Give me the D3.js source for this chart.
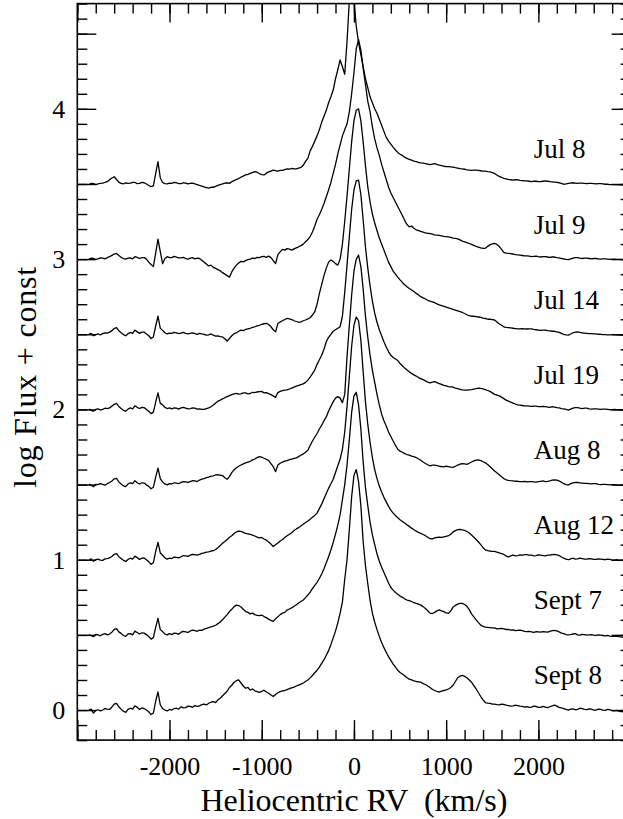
<!DOCTYPE html>
<html>
<head>
<meta charset="utf-8">
<script src="https://cdn.jsdelivr.net/npm/d3@7"></script>
<style>
  body { margin: 0; background: #fff; }
  svg text { font-family: "Liberation Serif", "DejaVu Serif", "Times New Roman", serif; fill: #000; }
</style>
</head>
<body>
<script>

// heliocentric radial velocity grid (km/s), shared by every spectrum; 8 points per row
var rv = [
  -2875,-2850,-2825,-2800,-2775,-2750,-2725,-2700,
  -2675,-2650,-2625,-2600,-2575,-2550,-2525,-2500,
  -2475,-2450,-2425,-2400,-2375,-2350,-2325,-2300,
  -2275,-2250,-2225,-2200,-2175,-2150,-2125,-2100,
  -2075,-2050,-2025,-2000,-1975,-1950,-1925,-1900,
  -1875,-1850,-1825,-1800,-1775,-1750,-1725,-1700,
  -1675,-1650,-1625,-1600,-1575,-1550,-1525,-1500,
  -1475,-1450,-1425,-1400,-1375,-1350,-1325,-1300,
  -1275,-1250,-1225,-1200,-1175,-1150,-1125,-1100,
  -1075,-1050,-1025,-1000,-975,-950,-925,-900,
  -875,-850,-825,-800,-775,-750,-725,-700,
  -675,-650,-625,-600,-575,-550,-525,-500,
  -475,-450,-425,-400,-375,-350,-325,-300,
  -275,-250,-225,-200,-175,-150,-125,-100,
  -75,-50,-25,0,25,50,75,100,
  125,150,175,200,225,250,275,300,
  325,350,375,400,425,450,475,500,
  525,550,575,600,625,650,675,700,
  725,750,775,800,825,850,875,900,
  925,950,975,1000,1025,1050,1075,1100,
  1125,1150,1175,1200,1225,1250,1275,1300,
  1325,1350,1375,1400,1425,1450,1475,1500,
  1525,1550,1575,1600,1625,1650,1675,1700,
  1725,1750,1775,1800,1825,1850,1875,1900,
  1925,1950,1975,2000,2025,2050,2075,2100,
  2125,2150,2175,2200,2225,2250,2275,2300,
  2325,2350,2375,2400,2425,2450,2475,2500,
  2525,2550,2575,2600,2625,2650,2675,2700,
  2725,2750,2775,2800,2825,2850,2875,2900,
  2925
];

// log flux above each spectrum's own continuum
var fluxJul8 = [
  -0.005,0.004,0.002,-0.004,0.000,0.004,0.006,0.010,
  0.015,0.028,0.040,0.048,0.030,0.012,0.004,0.000,
  0.008,0.004,0.006,0.010,0.010,0.002,0.004,0.010,
  0.008,0.000,-0.010,-0.018,-0.012,0.070,0.148,0.040,
  0.010,0.002,0.000,0.006,0.004,0.010,0.008,0.002,
  0.002,0.008,0.006,0.000,0.004,0.006,0.000,-0.004,
  -0.010,-0.014,-0.020,-0.024,-0.028,-0.022,-0.022,-0.016,
  -0.010,-0.004,0.000,0.006,0.008,0.004,0.015,0.022,
  0.030,0.036,0.045,0.052,0.060,0.064,0.070,0.076,
  0.082,0.078,0.068,0.062,0.060,0.072,0.080,0.086,
  0.092,0.088,0.085,0.090,0.090,0.096,0.100,0.098,
  0.104,0.100,0.100,0.106,0.110,0.124,0.150,0.170,
  0.220,0.250,0.285,0.320,0.360,0.410,0.450,0.490,
  0.540,0.580,0.625,0.700,0.760,0.825,0.780,0.730,
  0.950,1.220,1.450,1.220,1.050,0.940,0.860,0.780,
  0.700,0.640,0.580,0.540,0.500,0.470,0.430,0.390,
  0.350,0.310,0.285,0.265,0.245,0.226,0.210,0.198,
  0.190,0.178,0.170,0.164,0.158,0.152,0.148,0.144,
  0.140,0.138,0.135,0.132,0.128,0.132,0.136,0.130,
  0.125,0.122,0.118,0.116,0.115,0.114,0.112,0.108,
  0.105,0.102,0.100,0.098,0.094,0.092,0.090,0.092,
  0.092,0.090,0.088,0.086,0.085,0.082,0.080,0.076,
  0.070,0.060,0.050,0.044,0.038,0.034,0.030,0.028,
  0.026,0.028,0.028,0.024,0.022,0.020,0.020,0.018,
  0.016,0.018,0.018,0.016,0.015,0.018,0.020,0.018,
  0.015,0.014,0.012,0.010,0.008,0.004,-0.002,0.000,
  0.004,0.006,0.008,0.006,0.004,0.006,0.006,0.004,
  0.002,0.004,0.004,0.002,0.000,0.002,0.002,0.000,
  -0.002,-0.002,-0.004,-0.004,-0.004,-0.004,-0.006,-0.006,
  -0.008
];
var fluxJul9 = [
  0.000,0.006,0.004,-0.002,0.002,0.008,0.006,0.002,
  0.010,0.016,0.025,0.034,0.038,0.024,0.012,0.004,
  0.000,0.006,0.008,0.002,0.016,0.012,0.004,0.010,
  0.010,0.000,-0.020,-0.036,-0.050,0.040,0.133,0.050,
  -0.030,0.004,0.016,0.010,0.010,0.018,0.014,0.008,
  0.008,0.012,0.004,0.000,0.006,0.010,0.002,0.006,
  0.004,-0.008,-0.020,-0.032,-0.045,-0.040,-0.055,-0.062,
  -0.070,-0.078,-0.090,-0.100,-0.110,-0.120,-0.085,-0.060,
  -0.040,-0.026,-0.015,-0.018,-0.010,-0.004,0.000,0.006,
  0.004,0.012,0.010,0.016,0.018,0.012,0.020,0.010,
  -0.010,-0.030,0.030,0.048,0.065,0.060,0.070,0.066,
  0.060,0.068,0.075,0.082,0.090,0.100,0.115,0.130,
  0.150,0.180,0.220,0.265,0.295,0.330,0.370,0.415,
  0.460,0.510,0.570,0.630,0.700,0.760,0.820,0.860,
  0.900,0.980,1.100,1.240,1.400,1.460,1.390,1.270,
  1.160,1.050,0.980,0.880,0.800,0.740,0.690,0.630,
  0.580,0.530,0.480,0.440,0.410,0.380,0.350,0.320,
  0.290,0.258,0.230,0.215,0.220,0.205,0.195,0.190,
  0.185,0.180,0.175,0.172,0.170,0.166,0.162,0.160,
  0.158,0.155,0.152,0.150,0.148,0.144,0.140,0.138,
  0.135,0.128,0.120,0.115,0.110,0.104,0.098,0.092,
  0.085,0.080,0.075,0.072,0.072,0.085,0.095,0.102,
  0.105,0.098,0.085,0.065,0.045,0.040,0.038,0.036,
  0.034,0.030,0.028,0.026,0.024,0.022,0.022,0.020,
  0.016,0.018,0.020,0.016,0.014,0.016,0.016,0.014,
  0.012,0.014,0.014,0.010,0.008,0.004,0.002,-0.002,
  -0.004,0.002,0.006,0.010,0.010,0.006,0.004,0.006,
  0.006,0.004,0.002,0.004,0.004,0.002,0.000,0.002,
  0.002,0.000,-0.002,0.000,0.000,-0.002,-0.002,-0.002,
  -0.004
];
var fluxJul14 = [
  0.000,0.006,-0.010,-0.002,0.002,-0.004,0.004,0.010,
  0.008,0.014,0.024,0.038,0.045,0.024,0.010,-0.002,
  -0.010,0.004,0.012,0.006,0.028,0.016,0.006,0.014,
  0.014,0.002,-0.010,-0.028,-0.018,0.055,0.120,0.040,
  0.026,0.010,0.002,0.008,0.006,0.012,0.010,0.004,
  0.008,0.012,0.006,0.002,0.006,0.010,0.004,0.000,
  0.006,0.002,0.000,-0.006,-0.004,0.002,-0.006,-0.012,
  -0.010,-0.016,-0.018,-0.030,-0.045,-0.028,-0.010,0.004,
  0.010,0.020,0.028,0.024,0.032,0.036,0.040,0.046,
  0.050,0.056,0.060,0.066,0.070,0.072,0.065,0.050,
  0.030,0.016,0.072,0.082,0.090,0.098,0.106,0.102,
  0.098,0.090,0.085,0.080,0.083,0.090,0.095,0.102,
  0.110,0.128,0.150,0.200,0.270,0.330,0.390,0.440,
  0.480,0.494,0.485,0.470,0.460,0.500,0.600,0.750,
  0.920,1.100,1.280,1.420,1.490,1.500,1.420,1.280,
  1.120,0.980,0.880,0.800,0.740,0.690,0.640,0.600,
  0.560,0.520,0.480,0.450,0.420,0.400,0.380,0.362,
  0.345,0.330,0.316,0.305,0.295,0.284,0.272,0.262,
  0.250,0.242,0.235,0.226,0.220,0.216,0.210,0.202,
  0.195,0.190,0.185,0.180,0.175,0.170,0.165,0.160,
  0.155,0.150,0.145,0.138,0.130,0.124,0.120,0.120,
  0.118,0.115,0.112,0.108,0.105,0.100,0.100,0.098,
  0.095,0.082,0.070,0.060,0.050,0.046,0.044,0.042,
  0.040,0.038,0.036,0.036,0.038,0.036,0.035,0.036,
  0.036,0.032,0.030,0.028,0.026,0.028,0.028,0.024,
  0.022,0.020,0.020,0.016,0.012,0.006,0.000,-0.004,
  -0.006,0.002,0.010,0.014,0.016,0.012,0.010,0.008,
  0.006,0.004,0.004,0.002,0.002,0.000,0.000,-0.002,
  -0.002,-0.004,-0.004,-0.002,-0.002,-0.004,-0.006,-0.006,
  -0.008
];
var fluxJul19 = [
  0.002,-0.006,-0.012,0.000,0.004,-0.004,0.000,0.008,
  0.006,0.010,0.022,0.034,0.040,0.020,0.006,-0.006,
  -0.012,0.002,0.010,0.004,0.024,0.014,0.006,0.014,
  0.012,0.000,-0.012,-0.028,-0.018,0.048,0.110,0.040,
  0.030,0.014,0.006,0.010,0.004,0.010,0.008,0.002,
  0.010,0.014,0.008,0.004,0.006,0.010,0.008,0.002,
  0.004,0.000,0.000,0.006,0.010,0.018,0.030,0.042,
  0.055,0.062,0.070,0.078,0.085,0.092,0.098,0.104,
  0.107,0.102,0.104,0.110,0.110,0.104,0.106,0.114,
  0.112,0.116,0.118,0.120,0.110,0.112,0.105,0.098,
  0.090,0.080,0.112,0.120,0.125,0.128,0.130,0.136,
  0.142,0.148,0.155,0.160,0.165,0.170,0.180,0.195,
  0.215,0.238,0.262,0.300,0.330,0.360,0.400,0.450,
  0.480,0.500,0.520,0.530,0.540,0.550,0.620,0.780,
  0.960,1.150,1.330,1.460,1.520,1.526,1.430,1.260,
  1.080,0.940,0.820,0.720,0.640,0.580,0.530,0.490,
  0.450,0.415,0.385,0.360,0.345,0.335,0.325,0.305,
  0.290,0.275,0.262,0.250,0.240,0.230,0.222,0.212,
  0.205,0.198,0.190,0.182,0.176,0.182,0.185,0.178,
  0.172,0.166,0.160,0.156,0.152,0.150,0.148,0.142,
  0.138,0.134,0.130,0.128,0.128,0.130,0.132,0.135,
  0.138,0.142,0.140,0.136,0.132,0.126,0.120,0.110,
  0.100,0.096,0.090,0.082,0.072,0.062,0.055,0.048,
  0.042,0.036,0.030,0.028,0.026,0.024,0.024,0.022,
  0.020,0.022,0.022,0.018,0.018,0.020,0.018,0.016,
  0.014,0.018,0.016,0.012,0.010,0.006,0.004,0.000,
  -0.004,0.002,0.008,0.012,0.012,0.008,0.006,0.008,
  0.008,0.004,0.002,0.004,0.004,0.002,0.000,0.002,
  0.002,0.000,-0.002,-0.002,0.000,-0.002,-0.004,-0.004,
  -0.006
];
var fluxAug8 = [
  0.004,-0.004,-0.014,0.002,0.000,0.006,0.002,-0.004,
  0.006,0.014,0.024,0.038,0.042,0.018,0.004,-0.008,
  -0.014,0.004,0.012,0.006,0.026,0.012,0.004,0.012,
  0.010,-0.002,-0.012,-0.028,-0.018,0.050,0.110,0.040,
  0.018,0.004,-0.002,0.006,0.004,0.012,0.010,0.006,
  0.014,0.020,0.018,0.014,0.020,0.026,0.024,0.020,
  0.030,0.036,0.040,0.046,0.050,0.056,0.058,0.064,
  0.066,0.062,0.060,0.045,0.035,0.055,0.080,0.098,
  0.112,0.122,0.130,0.138,0.145,0.150,0.155,0.164,
  0.170,0.180,0.186,0.182,0.175,0.168,0.160,0.140,
  0.120,0.086,0.130,0.142,0.150,0.156,0.160,0.166,
  0.170,0.174,0.178,0.186,0.195,0.204,0.215,0.228,
  0.260,0.290,0.315,0.340,0.370,0.395,0.425,0.450,
  0.490,0.520,0.552,0.575,0.585,0.575,0.545,0.600,
  0.850,1.060,1.260,1.420,1.500,1.527,1.450,1.300,
  1.120,0.980,0.860,0.760,0.680,0.600,0.530,0.470,
  0.425,0.390,0.350,0.320,0.290,0.262,0.235,0.222,
  0.215,0.206,0.200,0.196,0.190,0.186,0.180,0.170,
  0.162,0.150,0.140,0.132,0.125,0.130,0.130,0.126,
  0.122,0.120,0.118,0.122,0.120,0.116,0.115,0.122,
  0.130,0.136,0.140,0.138,0.135,0.142,0.150,0.158,
  0.163,0.164,0.160,0.152,0.145,0.134,0.120,0.105,
  0.090,0.078,0.065,0.052,0.040,0.032,0.028,0.026,
  0.025,0.022,0.022,0.020,0.020,0.022,0.018,0.020,
  0.020,0.018,0.016,0.020,0.022,0.024,0.020,0.022,
  0.025,0.030,0.032,0.030,0.024,0.016,0.006,0.000,
  -0.003,0.006,0.012,0.014,0.014,0.012,0.010,0.008,
  0.008,0.006,0.004,0.006,0.006,0.002,0.000,0.002,
  0.002,0.000,-0.002,0.000,0.000,-0.002,-0.003,-0.004,
  -0.006
];
var fluxAug12 = [
  0.000,0.006,-0.010,0.000,0.004,-0.002,-0.004,0.006,
  0.008,0.012,0.022,0.036,0.040,0.020,0.008,-0.004,
  -0.012,0.002,0.010,0.004,0.024,0.014,0.002,0.010,
  0.012,0.000,-0.014,-0.030,-0.020,0.055,0.115,0.045,
  0.030,0.012,0.004,0.010,0.008,0.018,0.015,0.012,
  0.020,0.028,0.026,0.022,0.030,0.036,0.034,0.030,
  0.036,0.042,0.045,0.050,0.052,0.058,0.060,0.068,
  0.080,0.094,0.110,0.122,0.135,0.150,0.160,0.175,
  0.185,0.190,0.188,0.182,0.175,0.172,0.168,0.164,
  0.158,0.150,0.145,0.148,0.138,0.130,0.118,0.104,
  0.088,0.100,0.112,0.125,0.135,0.148,0.160,0.170,
  0.180,0.195,0.205,0.214,0.225,0.236,0.248,0.258,
  0.270,0.282,0.295,0.310,0.340,0.370,0.405,0.440,
  0.475,0.505,0.535,0.580,0.625,0.670,0.735,0.850,
  1.020,1.220,1.420,1.560,1.615,1.590,1.460,1.250,
  1.050,0.900,0.780,0.680,0.600,0.540,0.490,0.450,
  0.415,0.385,0.355,0.330,0.310,0.294,0.280,0.266,
  0.255,0.244,0.232,0.222,0.210,0.200,0.190,0.182,
  0.175,0.168,0.160,0.150,0.140,0.138,0.145,0.148,
  0.150,0.148,0.152,0.156,0.160,0.170,0.185,0.194,
  0.200,0.202,0.198,0.195,0.188,0.178,0.165,0.150,
  0.135,0.118,0.100,0.080,0.066,0.060,0.058,0.055,
  0.055,0.050,0.045,0.040,0.035,0.026,0.018,0.026,
  0.030,0.026,0.028,0.032,0.030,0.034,0.034,0.030,
  0.030,0.026,0.028,0.032,0.030,0.028,0.026,0.030,
  0.030,0.034,0.036,0.032,0.028,0.018,0.010,0.004,
  0.000,0.006,0.010,0.004,0.006,0.010,0.008,0.004,
  0.004,0.008,0.006,0.002,0.002,0.006,0.004,0.002,
  0.000,0.004,0.002,-0.002,-0.002,0.000,-0.004,-0.004,
  -0.006
];
var fluxSept7 = [
  0.002,-0.004,-0.012,0.004,0.000,-0.006,0.004,0.008,
  0.000,0.006,0.018,0.036,0.042,0.020,0.010,-0.004,
  -0.010,0.006,0.008,0.000,0.025,0.016,0.006,0.014,
  0.012,0.002,-0.010,-0.028,-0.018,0.050,0.110,0.035,
  0.022,0.006,0.000,0.008,0.002,0.012,0.010,0.004,
  0.018,0.024,0.020,0.016,0.026,0.032,0.028,0.024,
  0.032,0.030,0.038,0.044,0.048,0.054,0.058,0.064,
  0.075,0.086,0.100,0.118,0.135,0.155,0.170,0.188,
  0.198,0.195,0.185,0.170,0.155,0.150,0.140,0.145,
  0.135,0.130,0.128,0.132,0.122,0.115,0.105,0.096,
  0.090,0.108,0.120,0.135,0.145,0.150,0.165,0.172,
  0.180,0.190,0.200,0.212,0.222,0.232,0.248,0.265,
  0.285,0.308,0.330,0.350,0.375,0.405,0.440,0.480,
  0.520,0.565,0.615,0.670,0.730,0.800,0.900,1.000,
  1.130,1.300,1.480,1.590,1.614,1.530,1.370,1.150,
  0.980,0.860,0.750,0.665,0.600,0.540,0.490,0.450,
  0.415,0.380,0.345,0.315,0.298,0.282,0.270,0.258,
  0.250,0.240,0.232,0.228,0.222,0.214,0.210,0.204,
  0.198,0.188,0.175,0.160,0.145,0.142,0.150,0.160,
  0.166,0.160,0.155,0.146,0.143,0.160,0.185,0.196,
  0.205,0.210,0.210,0.202,0.190,0.168,0.140,0.120,
  0.100,0.082,0.065,0.056,0.052,0.050,0.048,0.046,
  0.046,0.040,0.042,0.044,0.040,0.036,0.036,0.032,
  0.034,0.028,0.030,0.032,0.028,0.024,0.022,0.024,
  0.020,0.016,0.022,0.020,0.018,0.022,0.020,0.018,
  0.024,0.028,0.030,0.026,0.020,0.012,0.008,0.002,
  0.000,0.002,0.006,0.008,0.000,-0.002,0.004,0.002,
  -0.002,0.000,0.002,-0.002,-0.004,0.000,-0.002,-0.004,
  -0.006,-0.004,-0.008,-0.010,-0.010,-0.008,-0.012,-0.014,
  -0.016
];
var fluxSept8 = [
  0.000,0.006,-0.020,-0.004,0.002,-0.006,0.000,0.010,
  0.006,0.004,0.020,0.040,0.045,0.022,0.006,-0.008,
  -0.015,0.004,0.012,0.006,0.028,0.018,0.004,0.014,
  0.010,0.000,-0.012,-0.030,-0.020,0.060,0.120,0.035,
  0.010,0.000,-0.006,0.004,0.000,0.010,0.012,0.006,
  0.022,0.014,0.016,0.026,0.024,0.018,0.030,0.024,
  0.027,0.036,0.040,0.034,0.045,0.052,0.056,0.050,
  0.068,0.078,0.095,0.110,0.125,0.150,0.165,0.185,
  0.195,0.200,0.180,0.160,0.145,0.150,0.132,0.140,
  0.128,0.122,0.118,0.124,0.132,0.120,0.112,0.100,
  0.090,0.104,0.115,0.122,0.128,0.130,0.136,0.142,
  0.148,0.152,0.160,0.166,0.172,0.180,0.190,0.200,
  0.214,0.230,0.248,0.265,0.285,0.310,0.335,0.365,
  0.395,0.435,0.480,0.525,0.580,0.645,0.720,0.870,
  1.000,1.200,1.420,1.560,1.600,1.520,1.360,1.120,
  0.960,0.840,0.730,0.645,0.585,0.535,0.490,0.450,
  0.415,0.385,0.355,0.330,0.305,0.285,0.265,0.250,
  0.240,0.228,0.215,0.206,0.200,0.194,0.190,0.188,
  0.185,0.176,0.170,0.160,0.150,0.138,0.130,0.124,
  0.120,0.126,0.130,0.134,0.140,0.150,0.165,0.190,
  0.215,0.225,0.230,0.224,0.215,0.200,0.185,0.162,
  0.140,0.115,0.090,0.068,0.050,0.046,0.045,0.040,
  0.040,0.036,0.035,0.040,0.038,0.032,0.030,0.026,
  0.028,0.032,0.030,0.026,0.025,0.020,0.022,0.018,
  0.020,0.026,0.024,0.018,0.018,0.024,0.020,0.016,
  0.022,0.028,0.032,0.026,0.018,0.014,0.010,0.004,
  0.000,0.006,0.008,0.002,0.005,0.012,0.010,0.004,
  0.003,0.008,0.006,0.000,0.000,0.006,0.004,0.000,
  -0.002,0.004,0.002,-0.004,-0.005,-0.002,-0.008,-0.010,
  -0.012
];

var dates   = ["Jul 8", "Jul 9", "Jul 14", "Jul 19", "Aug 8", "Aug 12", "Sept 7", "Sept 8"];
var offsets = [3.5, 3.0, 2.5, 2.0, 1.5, 1.0, 0.5, 0.0];
var spectra = [fluxJul8, fluxJul9, fluxJul14, fluxJul19, fluxAug8, fluxAug12, fluxSept7, fluxSept8];

var xTickLabels = [-2000, -1000, 0, 1000, 2000];
var yTickLabels = [0, 1, 2, 3, 4];

var serif = "'Liberation Serif', 'DejaVu Serif', 'Times New Roman', serif";

spectra.forEach(function(s, i) {
    if (s.length !== rv.length) console.warn(dates[i] + ": " + s.length + " vs " + rv.length);
});

// set the dimensions and margins of the graph
var margin = {top: 3.6, left: 77.3},
    width = 553.3,
    height = 736.5;

var svg = d3.select("body")
    .append("svg")
        .attr("width", 623)
        .attr("height", 819);

var g = svg.append("g")
    .attr("transform", "translate(" + margin.left + "," + margin.top + ")");

var x = d3.scaleLinear().domain([-3000, 3000]).range([0, width]);
var y = d3.scaleLinear().domain([-0.2, 4.7]).range([height, 0]);

var minorX = d3.range(-15, 16).map(function(i) { return i * 200; });
var majorX = d3.range(-3, 4).map(function(i) { return i * 1000; });
var minorY = d3.range(-2, 48).map(function(i) { return i / 10; });
var majorY = d3.range(0, 10).map(function(i) { return i / 2; });

// inward ticks on all four sides
function ticks(axis, values, size, transform) {
    var a = g.append("g")
        .attr("transform", transform)
        .call(axis.tickValues(values).tickSize(-size).tickFormat(""));
    a.select(".domain").remove();
    a.selectAll("line").attr("stroke", "#000").attr("stroke-width", 1.4);
}
ticks(d3.axisBottom(x), minorX, 10, "translate(0," + height + ")");
ticks(d3.axisBottom(x), majorX, 20, "translate(0," + height + ")");
ticks(d3.axisTop(x), minorX, 10, "translate(0,0)");
ticks(d3.axisTop(x), majorX, 19, "translate(0,0)");
ticks(d3.axisLeft(y), minorY, 10, "translate(0,0)");
ticks(d3.axisLeft(y), majorY, 19, "translate(0,0)");
ticks(d3.axisRight(y), minorY, 10, "translate(" + width + ",0)");
ticks(d3.axisRight(y), majorY, 19, "translate(" + width + ",0)");

// tick labels
var xl = g.append("g")
    .attr("transform", "translate(0," + height + ")")
    .call(d3.axisBottom(x).tickValues(xTickLabels).tickSize(0).tickPadding(16)
        .tickFormat(function(d) { return String(d); }));
xl.select(".domain").remove();
xl.attr("font-size", 26).attr("font-family", serif);
xl.selectAll("text").attr("font-family", serif).attr("fill", "#000");

var yl = g.append("g")
    .call(d3.axisLeft(y).tickValues(yTickLabels).tickSize(0).tickPadding(12)
        .tickFormat(function(d) { return String(d); }));
yl.select(".domain").remove();
yl.attr("font-size", 26).attr("font-family", serif);
yl.selectAll("text").attr("font-family", serif).attr("fill", "#000");

// frame
g.append("rect")
    .attr("x", 0).attr("y", 0)
    .attr("width", width).attr("height", height)
    .attr("fill", "none")
    .attr("stroke", "#000")
    .attr("stroke-width", 1.6);

g.append("clipPath").attr("id", "plotclip")
  .append("rect").attr("width", width).attr("height", height);

var line = d3.line()
    .x(function(d) { return x(d[0]); })
    .y(function(d) { return y(d[1]); });

g.append("g")
    .attr("clip-path", "url(#plotclip)")
  .selectAll("path")
    .data(spectra)
    .enter().append("path")
        .attr("d", function(s, i) {
            return line(rv.map(function(v, j) { return [v, offsets[i] + s[j]]; }));
        })
        .attr("fill", "none")
        .attr("stroke", "#000")
        .attr("stroke-width", 1.3)
        .attr("stroke-linejoin", "round");

// date labels
g.selectAll(".date")
    .data(dates)
    .enter().append("text")
        .attr("class", "date")
        .attr("x", x(1950))
        .attr("y", function(d, i) { return y(offsets[i] + 0.17); })
        .attr("font-size", 27)
        .attr("font-family", serif)
        .text(function(d) { return d; });

// Add X-Axis label
svg.append("text")
    .attr("x", margin.left + x(0))
    .attr("y", 811)
    .attr("font-size", 32)
    .attr("font-family", serif)
    .style("text-anchor", "middle")
    .style("white-space", "pre")
    .text("Heliocentric RV  (km/s)");

// Add Y-Axis label
svg.append("text")
    .attr("transform", "translate(36,377) rotate(-90)")
    .attr("font-size", 32)
    .attr("font-family", serif)
    .attr("letter-spacing", 0.8)
    .style("text-anchor", "middle")
    .text("log Flux + const");

</script>
</body>
</html>
